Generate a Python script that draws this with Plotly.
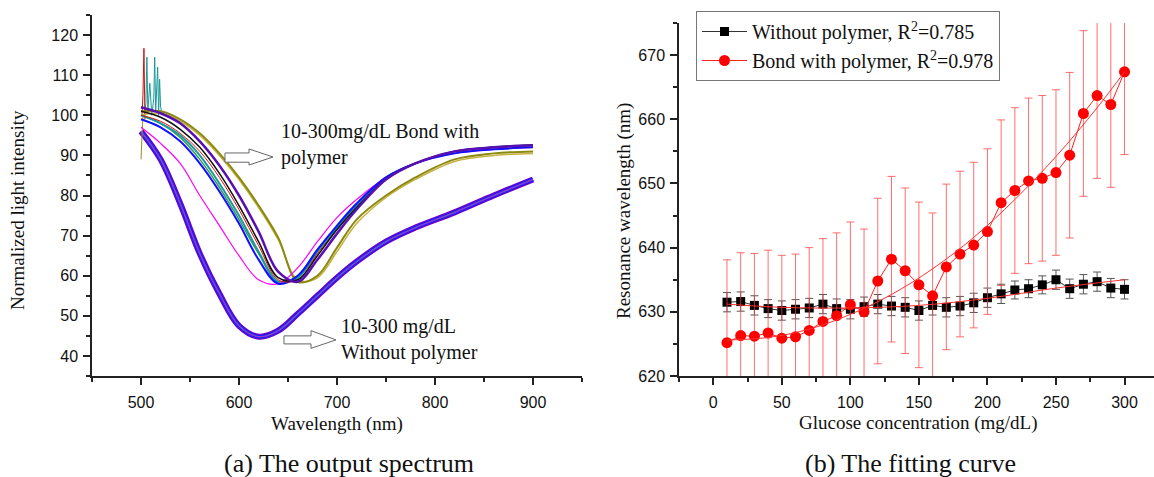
import plotly.graph_objects as go

# ---------------- (a) spectra: values read at these wavelengths ----------------
wl_nodes = [500, 520, 540, 560, 580, 600, 620, 640, 660, 680, 700, 720, 750, 780, 820, 860, 900]

lower_bundle = [96, 89, 78, 65.5, 55.5, 47.5, 44.8, 46.3, 50.5, 55, 59.5, 63.5, 68.5, 72, 75.8, 80, 84]

up_magenta = [97, 93, 88, 80, 72.5, 65, 59, 58, 62, 68.5, 74.5, 79, 84.5, 88, 90.5, 91.5, 92]
up_blue = [99, 97, 93.5, 88, 81, 73, 64, 58, 60, 66.5, 72.5, 78, 84.5, 88, 90.5, 91.5, 92]
up_teal = [100, 98, 95, 90, 83, 75, 66, 58.5, 59.5, 66, 72, 77.5, 84.5, 88, 91, 92, 92.5]
up_black = [101, 99.5, 96.5, 92, 85.5, 77.5, 68.5, 59.5, 59, 65, 71.5, 77, 84, 88, 91, 92, 92.5]
up_purple = [102, 100.5, 98, 93.5, 87.5, 80, 71, 61, 58.5, 64, 70.5, 76.5, 84, 88, 91, 92, 92.5]
up_red = [100, 98.5, 95.5, 91, 84.5, 76.5, 67.5, 59, 59, 65.5, 71.5, 77, 84, 88, 91, 92, 92.5]
up_green = [100, 98, 94.5, 89, 82, 74, 65.5, 58.5, 60, 66.5, 72, 77.5, 84.5, 88, 91, 92, 92.5]
up_olive = [101, 101, 99, 95.5, 90.5, 84.5, 77.5, 69.5, 58.5, 60, 67, 74, 80, 84.5, 89, 90.5, 91]
up_khaki = [100, 100.5, 98.5, 95, 90, 84, 77, 69, 59, 59.5, 66, 73, 79.5, 84, 88.5, 90, 90.5]

spike_teal_wl = [503, 505, 506, 507, 509, 511, 513, 514, 515, 517, 518, 519, 520, 522]
spike_teal_val = [100, 103, 114.5, 101, 108, 100, 104, 114.5, 101, 112, 100, 109, 102, 100]
spike_red_wl = [501, 502, 503, 504]
spike_red_val = [100, 105, 116.7, 99]
dip_olive_wl = [500, 501, 502]
dip_olive_val = [89, 97, 100]

# ---------------- (b) fitting curve ----------------
conc = [10, 20, 30, 40, 50, 60, 70, 80, 90, 100, 110, 120, 130, 140, 150,
        160, 170, 180, 190, 200, 210, 220, 230, 240, 250, 260, 270, 280, 290, 300]
without_poly = [631.5, 631.6, 631.0, 630.5, 630.2, 630.4, 630.6, 631.2, 630.5, 630.4,
                630.8, 631.2, 630.9, 630.7, 630.2, 631.0, 630.7, 630.9, 631.4, 632.2,
                632.8, 633.4, 633.6, 634.2, 635.0, 633.6, 634.3, 634.7, 633.7, 633.5]
without_err = [1.5, 1.5, 1.5, 1.4, 1.5, 1.5, 1.5, 1.5, 1.5, 1.5,
               1.5, 1.5, 1.5, 1.5, 1.5, 1.5, 1.5, 1.5, 1.5, 1.5,
               1.5, 1.4, 1.4, 1.4, 1.5, 1.5, 1.5, 1.5, 1.5, 1.5]
bond_poly = [625.2, 626.3, 626.2, 626.7, 625.9, 626.1, 627.1, 628.5, 629.4, 631.1,
             630.0, 634.8, 638.2, 636.4, 634.2, 632.5, 637.0, 639.0, 640.4, 642.5,
             647.0, 648.9, 650.4, 650.8, 651.7, 654.4, 660.9, 663.7, 662.3, 667.4]
bond_err = [12.9] * 30

fit_without_x = [10, 50, 100, 150, 200, 250, 300]
fit_without_y = [631.2, 630.7, 630.6, 631.0, 632.1, 633.7, 635.0]
fit_bond_x = [10, 40, 70, 100, 130, 160, 190, 220, 250, 280, 300]
fit_bond_y = [625.6, 626.0, 627.3, 629.6, 632.7, 636.7, 641.6, 647.5, 654.2, 661.8, 667.4]

W, H = 1154, 477
fig = go.Figure()

# ---- spectra traces ----
def spec(vals, color, width, xs=wl_nodes, shape="spline"):
    fig.add_trace(go.Scatter(x=xs, y=vals, mode="lines", line=dict(color=color, width=width, shape=shape),
                             xaxis="x", yaxis="y", showlegend=False, hoverinfo="skip"))

spec(lower_bundle, "#6a00c8", 6)
spec(lower_bundle, "#2020ff", 3.5)
spec(lower_bundle, "#2aa08a", 1.2)
spec(lower_bundle, "#e000e0", 0.8)

spec(spike_teal_val, "#1a9a9a", 1, xs=spike_teal_wl, shape="linear")
spec(spike_red_val, "#d01010", 1, xs=spike_red_wl, shape="linear")
spec(dip_olive_val, "#a08a20", 1, xs=dip_olive_wl, shape="linear")

spec(up_khaki, "#c8b040", 1.5)
spec(up_olive, "#8a8a10", 2)
spec(up_green, "#3a9a5a", 1.5)
spec(up_teal, "#1a9a9a", 2)
spec(up_magenta, "#ff00ff", 1.2)
spec(up_blue, "#1010ff", 2)
spec(up_red, "#e01010", 1)
spec(up_black, "#101010", 1.5)
spec(up_purple, "#5a10b0", 2.5)

# ---- fitting curve traces ----
fig.add_trace(go.Scatter(x=conc, y=without_poly, mode="lines+markers",
                         name="Without polymer, R<sup>2</sup>=0.785",
                         line=dict(color="#333333", width=1),
                         marker=dict(symbol="square", size=9, color="black"),
                         error_y=dict(type="data", array=without_err, color="#555555", thickness=1, width=4),
                         xaxis="x2", yaxis="y2"))
fig.add_trace(go.Scatter(x=conc, y=bond_poly, mode="lines+markers",
                         name="Bond with polymer, R<sup>2</sup>=0.978",
                         line=dict(color="#ff2020", width=1),
                         marker=dict(symbol="circle", size=11, color="#ff0000"),
                         error_y=dict(type="data", array=bond_err, color="rgba(255,60,60,0.75)", thickness=1, width=4),
                         xaxis="x2", yaxis="y2"))
fig.add_trace(go.Scatter(x=fit_without_x, y=fit_without_y, mode="lines", line=dict(color="#ff3030", width=1, shape="spline"),
                         xaxis="x2", yaxis="y2", showlegend=False, hoverinfo="skip"))
fig.add_trace(go.Scatter(x=fit_bond_x, y=fit_bond_y, mode="lines", line=dict(color="#ff3030", width=1, shape="spline"),
                         xaxis="x2", yaxis="y2", showlegend=False, hoverinfo="skip"))

tickfont = dict(family="Liberation Sans, Arial, sans-serif", size=16, color="#111")
axcommon = dict(showline=True, linecolor="#222", linewidth=1.5, ticks="outside", ticklen=7, tickwidth=1.5,
                tickcolor="#222", showgrid=False, zeroline=False, tickfont=tickfont, mirror=False,
                automargin=False)

def px(xp):
    return xp / W

def py(yp):
    return 1 - yp / H

minor_common = dict(ticks="outside", ticklen=4, tickcolor="#222", tickwidth=1.5)

fig.update_layout(
    width=W, height=H, margin=dict(l=0, r=0, t=0, b=0, pad=0, autoexpand=False), autosize=False,
    paper_bgcolor="white", plot_bgcolor="white",
    xaxis=dict(domain=[px(92), px(582)], range=[450, 950], dtick=100, tick0=0,
               minor=dict(dtick=50, **minor_common), ticklabelstandoff=4,
               anchor="y", **axcommon),
    yaxis=dict(domain=[py(376), py(15)], range=[35, 125], dtick=10, tick0=0,
               minor=dict(dtick=5, **minor_common), ticklabelstandoff=2,
               anchor="x", **axcommon),
    xaxis2=dict(domain=[px(679), 1.0], range=[-25, 321.5], dtick=50, tick0=0,
                minor=dict(dtick=25, **minor_common), ticklabelstandoff=4,
                anchor="y2", **axcommon),
    yaxis2=dict(domain=[py(376), py(23)], range=[620, 675], dtick=10, tick0=0,
                minor=dict(dtick=5, **minor_common), ticklabelstandoff=2,
                anchor="x2", **axcommon),
    legend=dict(x=px(696), y=py(11), xanchor="left", yanchor="top",
                bordercolor="#777", borderwidth=1, bgcolor="white", itemwidth=45,
                font=dict(family="Liberation Serif, Times New Roman, serif", size=20, color="#111"),
                tracegroupgap=0),
    font=dict(family="Liberation Serif, Times New Roman, serif", color="#111"),
)

serif = "Liberation Serif, Times New Roman, serif"
def ann(text, x, y, size, angle=0):
    return dict(text=text, x=px(x), y=py(y), xref="paper", yref="paper", xanchor="center",
                yanchor="middle", textangle=angle, showarrow=False, font=dict(family=serif, size=size, color="#111"))

annots = [
    ann("Normalized light intensity", 17, 210, 19, -90),
    ann("Wavelength (nm)", 337, 424, 19),
    ann("Resonance wavelength (nm)", 624, 211, 19, -90),
    ann("Glucose concentration (mg/dL)", 918, 423, 19),
    ann("(a) The output spectrum", 349, 463, 26),
    ann("(b) The fitting curve", 910, 463, 26),
    dict(text="10-300mg/dL Bond with<br>polymer", x=640.8, y=92.6, xref="x", yref="y",
         xanchor="left", yanchor="middle", align="left", showarrow=False,
         font=dict(family=serif, size=20, color="#111")),
    dict(text="10-300 mg/dL<br>Without polymer", x=702, y=44.0, xref="x", yref="y",
         xanchor="left", yanchor="middle", align="left", showarrow=False,
         font=dict(family=serif, size=20, color="#111")),
]
fig.update_layout(annotations=annots)

shapes = [
    dict(type="path", xref="x", yref="y",
         path="M 585.7,88.3 L 610.2,88.3 L 610.2,87.6 L 634.7,89.6 L 610.2,91.6 L 610.2,90.6 L 585.7,90.6 Z",
         line=dict(color="#666", width=1), fillcolor="white"),
    dict(type="path", xref="x", yref="y",
         path="M 645.9,43.0 L 673.5,43.0 L 673.5,41.9 L 699,44.0 L 673.5,46.3 L 673.5,45.0 L 645.9,45.0 Z",
         line=dict(color="#666", width=1), fillcolor="white"),
]
fig.update_layout(shapes=shapes)

fig.write_html("out.html", config={"displayModeBar": False},
               post_script="document.body.style.margin='0px';")
